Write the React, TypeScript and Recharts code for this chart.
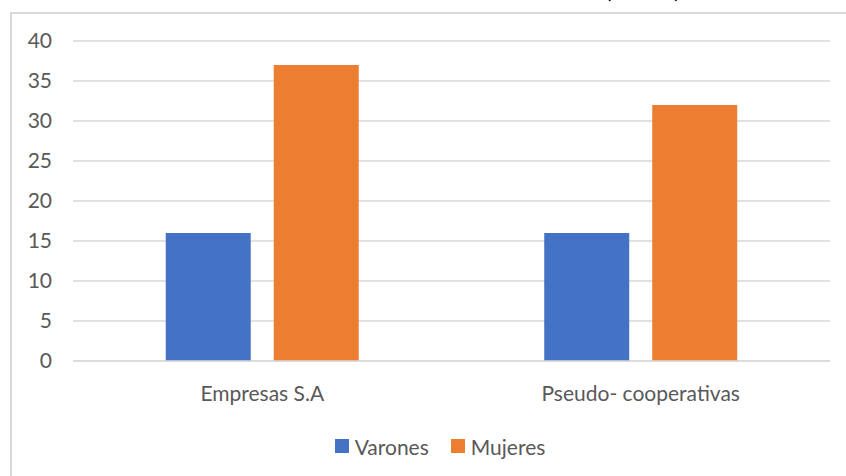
import { Bar, BarChart, CartesianGrid, Legend, XAxis, YAxis } from "recharts";

// Conteo por tipo de organización y sexo
const categories = ["Empresas S.A", "Pseudo- cooperativas"];
const varones = [16, 16];
const mujeres = [37, 32];
const yTicks = [0, 5, 10, 15, 20, 25, 30, 35, 40];

const series = [
  { key: "Varones", color: "#4472C4" },
  { key: "Mujeres", color: "#ED7D31" },
];

const FONT = "Lato, 'Open Sans', sans-serif";
const TEXT = "#595959";
const GRID = "#d9d9d9";

const data = categories.map((name, i) => ({
  name,
  Varones: varones[i],
  Mujeres: mujeres[i],
}));

// legend drawn in series order (Recharts would sort it by name)
function LegendBox() {
  return (
    <div
      style={{
        display: "flex",
        justifyContent: "center",
        alignItems: "center",
        height: 24,
        fontFamily: FONT,
        fontSize: 21,
        color: TEXT,
      }}
    >
      {series.map((s) => (
        <span
          key={s.key}
          style={{ display: "inline-flex", alignItems: "center", margin: "0 11px" }}
        >
          <span
            style={{ width: 14, height: 14, background: s.color, marginRight: 6 }}
          />
          {s.key}
        </span>
      ))}
    </div>
  );
}

export default function App() {
  return (
    <div
      style={{
        position: "absolute",
        left: 0,
        top: 0,
        width: 846,
        height: 476,
        overflow: "hidden",
        background: "#fff",
      }}
    >
      {/* chart area frame, running off the right and bottom edges */}
      <div
        style={{
          position: "absolute",
          left: 10,
          top: 12,
          width: 900,
          height: 500,
          borderLeft: `2px solid ${GRID}`,
          borderTop: `2px solid ${GRID}`,
        }}
      />
      {/* tail of the title line above the frame */}
      <svg
        width={846}
        height={12}
        style={{ position: "absolute", left: 0, top: 0 }}
      >
        <text x={605} y={-2} fontFamily={FONT} fontSize={24} fill="#000">
          (
        </text>
        <text x={674} y={-2} fontFamily={FONT} fontSize={24} fill="#000">
          )
        </text>
      </svg>
      <div style={{ position: "absolute", left: 0, top: 0 }}>
        <BarChart
          width={846}
          height={476}
          data={data}
          margin={{ top: 41, right: 16, left: 0, bottom: 18 }}
          barCategoryGap="24.5%"
          barGap={23}
        >
          <CartesianGrid vertical={false} stroke={GRID} strokeWidth={1.5} />
          <XAxis
            dataKey="name"
            height={73}
            axisLine={{ stroke: GRID, strokeWidth: 1.5 }}
            tickLine={false}
            tickSize={0}
            tickMargin={25}
            tick={{ fontFamily: FONT, fontSize: 21, fill: TEXT }}
          />
          <YAxis
            width={73}
            domain={[0, 40]}
            ticks={yTicks}
            axisLine={false}
            tickLine={false}
            tickSize={0}
            tickMargin={21}
            tick={{ fontFamily: FONT, fontSize: 21, fill: TEXT }}
          />
          <Legend
            verticalAlign="bottom"
            content={<LegendBox />}
            wrapperStyle={{ left: 0, width: 880 }}
          />
          {series.map((s) => (
            <Bar
              key={s.key}
              dataKey={s.key}
              fill={s.color}
              isAnimationActive={false}
            />
          ))}
        </BarChart>
      </div>
    </div>
  );
}
